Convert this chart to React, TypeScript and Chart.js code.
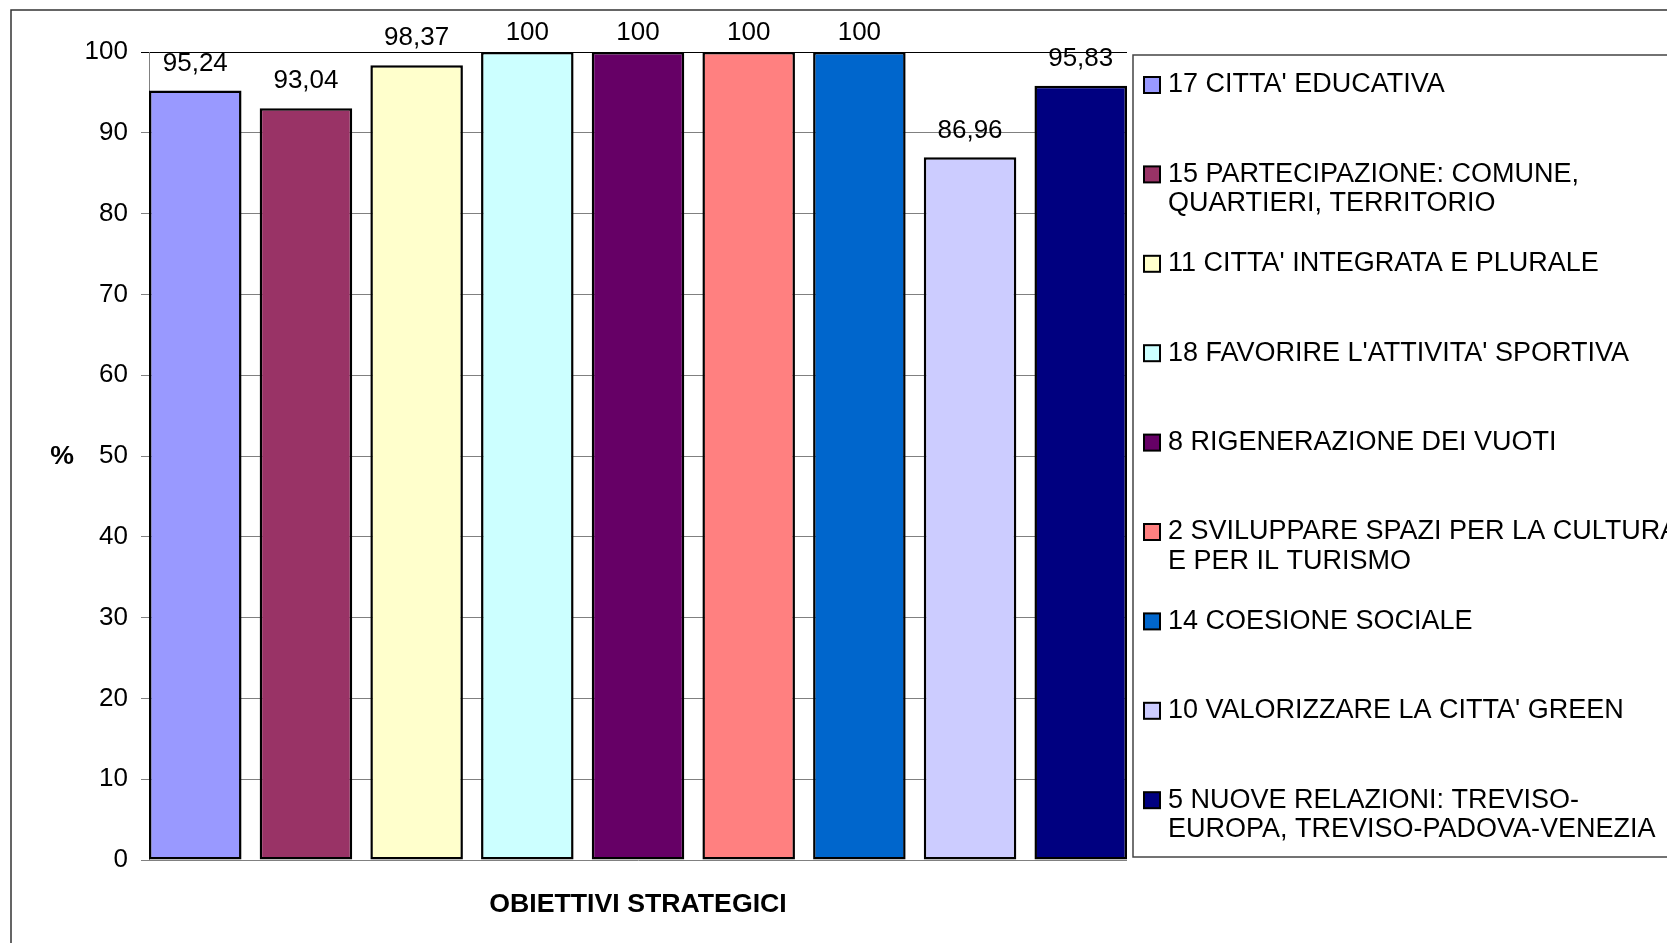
import React, { useEffect, useRef } from "react";
import { Chart, registerables } from "chart.js";

Chart.register(...registerables);

const categories = [
  "17 CITTA' EDUCATIVA",
  "15 PARTECIPAZIONE: COMUNE,\nQUARTIERI, TERRITORIO",
  "11 CITTA' INTEGRATA E PLURALE",
  "18 FAVORIRE L'ATTIVITA' SPORTIVA",
  "8 RIGENERAZIONE DEI VUOTI",
  "2 SVILUPPARE SPAZI PER LA CULTURA\nE PER IL TURISMO",
  "14 COESIONE SOCIALE",
  "10 VALORIZZARE LA CITTA' GREEN",
  "5 NUOVE RELAZIONI: TREVISO-\nEUROPA, TREVISO-PADOVA-VENEZIA",
];
const values = [95.24, 93.04, 98.37, 100, 100, 100, 100, 86.96, 95.83];
const colors = [
  "#9999FF",
  "#993366",
  "#FFFFCC",
  "#CCFFFF",
  "#660066",
  "#FF8080",
  "#0066CC",
  "#CCCCFF",
  "#000080",
];
const yMin = 0;
const yMax = 100;
const yStep = 10;
const yAxisLabel = "%";
const xAxisLabel = "OBIETTIVI STRATEGICI";

const FONT = "'Liberation Sans', Arial, Helvetica, sans-serif";
const BAR_PCT = 0.836;

const fmt = (v: number) => String(v).replace(".", ",");

const decorPlugin = {
  id: "decor",
  beforeDraw(chart: any) {
    const ctx = chart.ctx;
    ctx.save();
    ctx.fillStyle = "#ffffff";
    ctx.fillRect(0, 0, chart.width, chart.height);
    // outer frame (top + left visible)
    ctx.strokeStyle = "#333333";
    ctx.lineWidth = 1.5;
    ctx.beginPath();
    ctx.moveTo(11, chart.height + 5);
    ctx.lineTo(11, 10);
    ctx.lineTo(chart.width + 5, 10);
    ctx.stroke();
    ctx.restore();
  },
  afterDatasetsDraw(chart: any) {
    const ctx = chart.ctx;
    const meta = chart.getDatasetMeta(0);
    ctx.save();
    ctx.font = `26px ${FONT}`;
    ctx.fillStyle = "#000";
    ctx.textAlign = "center";
    ctx.textBaseline = "middle";
    meta.data.forEach((el: any, i: number) => {
      const y = Math.max(el.y - 27, 33);
      ctx.fillText(fmt(values[i]), el.x, y);
    });
    ctx.restore();
  },
  afterDraw(chart: any) {
    const ctx = chart.ctx;
    const area = chart.chartArea;
    ctx.save();
    // axis titles
    ctx.fillStyle = "#000";
    ctx.font = `bold 26.7px ${FONT}`;
    ctx.textAlign = "center";
    ctx.textBaseline = "middle";
    ctx.fillText(yAxisLabel, 62, (area.top + area.bottom) / 2 + 1);
    ctx.fillText(xAxisLabel, (area.left + area.right) / 2, 905);

    // legend box
    const lx = 1133;
    const ly = 55;
    const lb = 857;
    ctx.strokeStyle = "#444444";
    ctx.lineWidth = 1.5;
    ctx.strokeRect(lx, ly, chart.width + 20 - lx, lb - ly);

    ctx.font = `27px ${FONT}`;
    ctx.textAlign = "left";
    categories.forEach((name, k) => {
      const y0 = 85 + 89.4 * k;
      ctx.fillStyle = colors[k];
      ctx.fillRect(1144, y0 - 8, 16, 16);
      ctx.strokeStyle = "#000";
      ctx.lineWidth = 2;
      ctx.strokeRect(1144, y0 - 8, 16, 16);
      ctx.fillStyle = "#000";
      name.split("\n").forEach((line, j) => {
        ctx.fillText(line, 1168, y0 + 29.5 * j);
      });
    });
    ctx.restore();
  },
};

export default function App() {
  const ref = useRef<HTMLCanvasElement | null>(null);

  useEffect(() => {
    if (!ref.current) return;
    const chart = new Chart(ref.current, {
      type: "bar",
      data: {
        datasets: [
          {
            data: values.map((v, i) => ({ x: i, y: v })),
            backgroundColor: colors,
            borderColor: "#000000",
            borderWidth: 2.5,
            borderSkipped: false,
            categoryPercentage: 1,
            barPercentage: BAR_PCT,
          } as any,
        ],
      },
      options: {
        responsive: false,
        animation: false,
        devicePixelRatio: 1,
        layout: { padding: { left: 0, top: 52, right: 540, bottom: 83 } },
        plugins: {
          legend: { display: false },
          tooltip: { enabled: false },
        },
        scales: {
          x: {
            type: "linear",
            display: false,
            offset: false,
            min: -BAR_PCT / 2,
            max: values.length - 1 + BAR_PCT / 2,
            ticks: { stepSize: 1, includeBounds: false },
            grid: { display: false, offset: false },
          },
          y: {
            min: yMin,
            max: yMax,
            ticks: {
              stepSize: yStep,
              padding: 13,
              color: "#000",
              font: { family: FONT, size: 26 },
            },
            grid: {
              color: (c: any) => (c.tick && c.tick.value === yMax ? "#000000" : "#808080"),
              lineWidth: 1,
              tickLength: 8,
            },
            border: { display: true, color: "#808080", width: 1 },
            afterFit: (s: any) => {
              s.width = 149;
            },
          },
        },
      } as any,
      plugins: [decorPlugin],
    });
    return () => chart.destroy();
  }, []);

  return (
    <div style={{ position: "fixed", left: 0, top: 0, width: 1667, height: 943, background: "#fff" }}>
      <canvas ref={ref} width={1667} height={943} style={{ display: "block" }} />
    </div>
  );
}
